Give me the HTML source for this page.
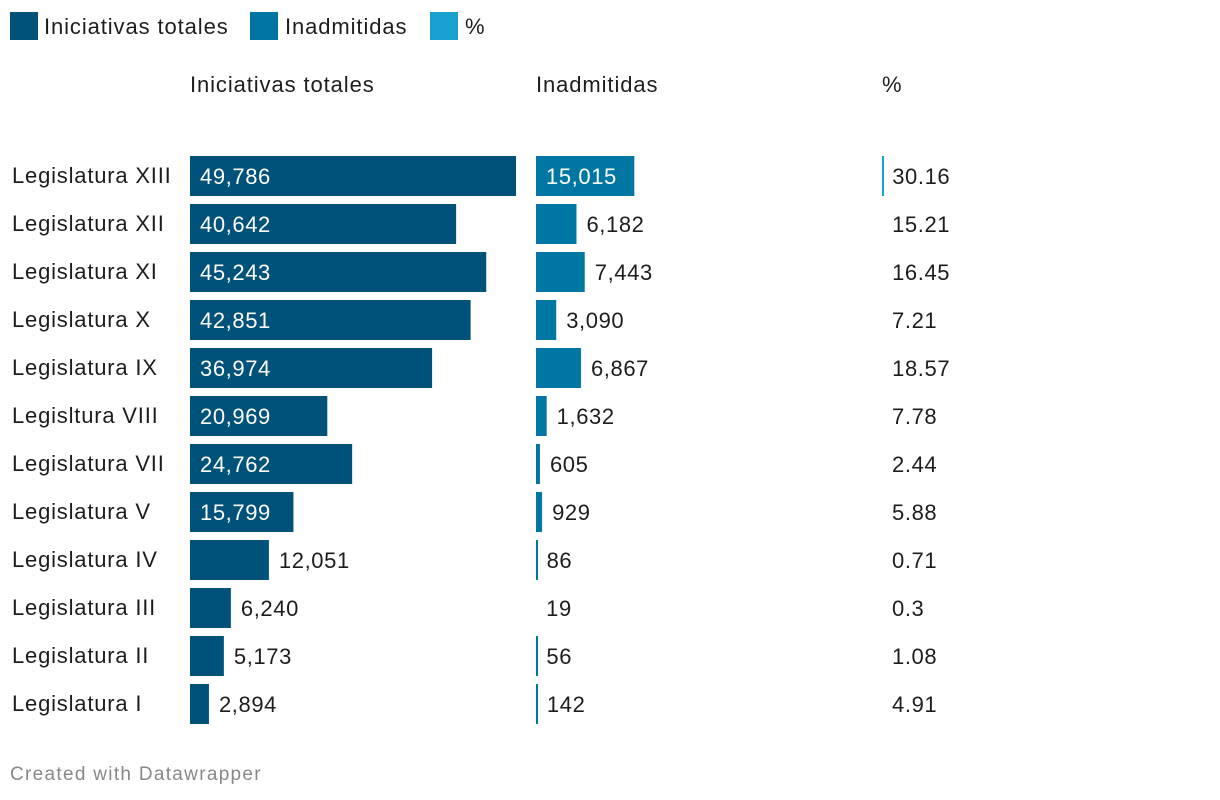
<!DOCTYPE html>
<html><head><meta charset="utf-8"><style>
body{margin:0;width:1220px;height:800px;background:#fff;font-family:"Liberation Sans",sans-serif;color:#1d1d1d;overflow:hidden;position:relative}
.lg{position:absolute;top:12px;height:30px;font-size:22px;letter-spacing:0.9px}
.sw{position:absolute;top:0;width:28px;height:28px}
.lt{position:absolute;top:2px;white-space:nowrap}
.h{position:absolute;top:72px;font-size:22px;letter-spacing:0.9px;white-space:nowrap}
.foot{position:absolute;left:10px;top:764px;font-size:19px;color:#888;letter-spacing:1.3px}
</style></head><body>
<div class="lg" style="left:0;width:600px">
<div class="sw" style="left:10px;background:#00527a"></div><span class="lt" style="left:44px">Iniciativas totales</span>
<div class="sw" style="left:250px;background:#0077a3"></div><span class="lt" style="left:285px">Inadmitidas</span>
<div class="sw" style="left:430px;background:#18a1d0"></div><span class="lt" style="left:465px">%</span>
</div>
<div class="h" style="left:190px">Iniciativas totales</div>
<div class="h" style="left:536px">Inadmitidas</div>
<div class="h" style="left:882px">%</div>
<svg id="c" width="1220" height="800" style="position:absolute;left:0;top:0"></svg>
<div class="foot">Created with Datawrapper</div>
<script>
const categories=["Legislatura XIII","Legislatura XII","Legislatura XI","Legislatura X","Legislatura IX","Legisltura VIII","Legislatura VII","Legislatura V","Legislatura IV","Legislatura III","Legislatura II","Legislatura I"];
const totales=[49786,40642,45243,42851,36974,20969,24762,15799,12051,6240,5173,2894];
const inadmitidas=[15015,6182,7443,3090,6867,1632,605,929,86,19,56,142];
const pct=[30.16,15.21,16.45,7.21,18.57,7.78,2.44,5.88,0.71,0.3,1.08,4.91];
const pctLabels=["30.16","15.21","16.45","7.21","18.57","7.78","2.44","5.88","0.71","0.3","1.08","4.91"];
const svg=document.getElementById('c');const NS='http://www.w3.org/2000/svg';
const xs=v=>v*326/49786;
const y=i=>156+i*48;
const fmt=v=>v.toLocaleString('en-US');
function col(vals,labels,x0,color,key){
 vals.forEach((v,i)=>{
  let w=xs(v);
  if(w>=0.15){
   const r=document.createElementNS(NS,'rect');
   r.setAttribute('x',x0);r.setAttribute('y',y(i));r.setAttribute('width',Math.max(w,2));r.setAttribute('height',40);r.setAttribute('fill',color);
   
   
   svg.appendChild(r);
  }
  const t=document.createElementNS(NS,'text');
  const inside=w>90;
  t.setAttribute('x',inside?x0+10:x0+Math.max(w,0)+10);
  t.setAttribute('y',y(i)+28);t.setAttribute('font-size','22');t.setAttribute('letter-spacing','0.6');
  t.setAttribute('fill',inside?'#fff':'#1d1d1d');
  t.textContent=labels[i];
  
  
  svg.appendChild(t);
 });
}
categories.forEach((c,i)=>{
 const t=document.createElementNS(NS,'text');
 t.setAttribute('x',12);t.setAttribute('y',y(i)+27);t.setAttribute('font-size','22');t.setAttribute('letter-spacing','0.8');t.setAttribute('fill','#1d1d1d');
 t.textContent=c;
 
 
 svg.appendChild(t);
});
col(totales,totales.map(fmt),190,'#00527a','totales');
col(inadmitidas,inadmitidas.map(fmt),536,'#0077a3','inadmitidas');
col(pct,pctLabels,882,'#18a1d0','pct');
</script>
</body></html>
